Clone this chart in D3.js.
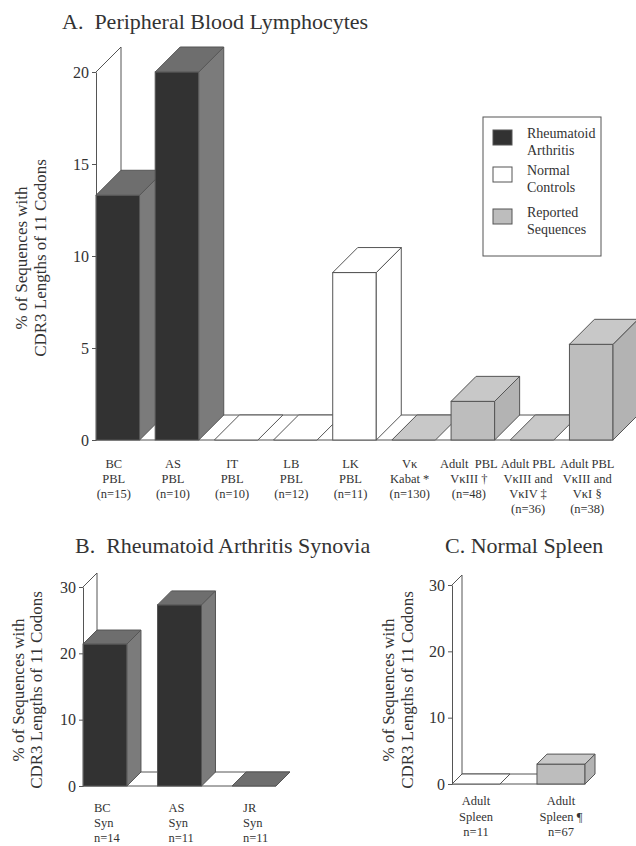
<!DOCTYPE html>
<html><head><meta charset="utf-8">
<script src="https://cdn.jsdelivr.net/npm/d3@7"></script>
<style>
body{margin:0;background:#fff;}
svg text{font-family:"Liberation Serif","Times New Roman",serif;fill:#333;}
</style></head>
<body><svg id="chart" width="636" height="846"></svg>
<script>
// ---------- DATA ----------
const seriesNames = ["Rheumatoid Arthritis", "Normal Controls", "Reported Sequences"];
const seriesKeys = ["RA", "NC", "RS"];
const legendLines = [["Rheumatoid","Arthritis"],["Normal","Controls"],["Reported","Sequences"]];

const catsA = ["BC PBL","AS PBL","IT PBL","LB PBL","LK PBL","Vκ Kabat","Adult PBL VκIII","Adult PBL VκIII and VκIV","Adult PBL VκIII and VκI"];
const labelsA = [["BC","PBL","(n=15)"],["AS","PBL","(n=10)"],["IT","PBL","(n=10)"],["LB","PBL","(n=12)"],["LK","PBL","(n=11)"],["Vκ","Kabat *","(n=130)"],["Adult  PBL","VκIII †","(n=48)"],["Adult PBL","VκIII and","VκIV ‡","(n=36)"],["Adult PBL","VκIII and","VκI §","(n=38)"]];
const valuesA = [13.3, 20.0, 0, 0, 9.1, 0, 2.1, 0, 5.2];
const seriesA = ["RA","RA","NC","NC","NC","RS","RS","RS","RS"];
const ticksA = [0,5,10,15,20];

const catsB = ["BC Syn","AS Syn","JR Syn"];
const labelsB = [["BC","Syn","n=14"],["AS","Syn","n=11"],["JR","Syn","n=11"]];
const valuesB = [21.4, 27.3, 0];
const seriesB = ["RA","RA","RA"];
const ticksB = [0,10,20,30];

const catsC = ["Adult Spleen","Adult Spleen ¶"];
const labelsC = [["Adult","Spleen","n=11"],["Adult","Spleen ¶","n=67"]];
const valuesC = [0, 3.0];
const seriesC = ["NC","RS"];
const ticksC = [0,10,20,30];

const titles = ["A.  Peripheral Blood Lymphocytes","B.  Rheumatoid Arthritis Synovia","C. Normal Spleen"];
const yLabel = ["% of Sequences with","CDR3 Lengths of 11 Codons"];

// ---------- STYLE ----------
const colors = {
  RA:{front:"#323232", top:"#6e6e6e", side:"#7b7b7b"},
  NC:{front:"#ffffff", top:"#ffffff", side:"#ffffff"},
  RS:{front:"#bdbdbd", top:"#c8c8c8", side:"#b3b3b3"}
};
const stroke = "#555";
const svg = d3.select("#chart");

function panel(cfg){
  const g = svg.append("g");
  const y = d3.scaleLinear().domain([0, d3.max(cfg.ticks)]).range(cfg.yRange);
  const x = d3.scaleBand().domain(cfg.cats).range(cfg.xRange).paddingInner(cfg.pad).paddingOuter(0).align(0);
  const d = cfg.depth, ax = cfg.xRange[0], y0 = y(0), yT = y(d3.max(cfg.ticks));
  const xEnd = cfg.xRange[1];
  // back wall
  g.append("path").attr("d", `M${ax},${yT}L${ax+d},${yT-d}L${ax+d},${y0-d}`)
    .attr("fill","none").attr("stroke",stroke);
  // floor
  g.append("path").attr("d", `M${ax},${y0}L${xEnd},${y0}L${xEnd+d},${y0-d}L${ax+d},${y0-d}Z`)
    .attr("fill","#fff").attr("stroke",stroke);
  // bars
  cfg.cats.forEach((c,i)=>{
    const v = cfg.values[i], col = colors[cfg.series[i]];
    const bx = x(c), w = x.bandwidth(), yt = y(v);
    if (v > 0){
      g.append("rect").attr("x",bx).attr("y",yt).attr("width",w).attr("height",y0-yt)
        .attr("fill",col.front).attr("stroke",stroke);
      g.append("path").attr("d",`M${bx+w},${yt}L${bx+w+d},${yt-d}L${bx+w+d},${y0-d}L${bx+w},${y0}Z`)
        .attr("fill",col.side).attr("stroke",stroke).attr("stroke-linejoin","round");
    }
    g.append("path").attr("d",`M${bx},${yt}L${bx+w},${yt}L${bx+w+d},${yt-d}L${bx+d},${yt-d}Z`)
      .attr("fill",col.top).attr("stroke",stroke).attr("stroke-linejoin","round");
    // labels
    const lt = g.append("text").attr("font-size",cfg.labelSize)
      .attr("text-anchor",cfg.labelAnchor).style("white-space","pre");
    cfg.labels[i].forEach((line,j)=>{
      lt.append("tspan").attr("x", bx + w/2 + cfg.labelDx).attr("y", cfg.labelY + j*cfg.labelLH).text(line);
    });
  });
  // axis
  const axis = g.append("g").attr("transform",`translate(${ax},0)`)
    .call(d3.axisLeft(y).tickValues(cfg.ticks).tickSize(4).tickSizeOuter(0).tickPadding(3));
  axis.select(".domain").attr("stroke",stroke);
  axis.selectAll(".tick line").attr("stroke",stroke);
  axis.selectAll(".tick text").attr("font-size",16).attr("fill","#333")
    .attr("font-family","Liberation Serif, serif");
  // y label
  const yl = g.append("text").attr("text-anchor","middle").attr("font-size",17)
    .attr("transform",`translate(0,${cfg.yLabelCy}) rotate(-90)`);
  yLabel.forEach((t,j)=>yl.append("tspan").attr("x",0).attr("y",cfg.yLabelX[j]).text(t));
  // title
  g.append("text").attr("x",cfg.titleX).attr("y",cfg.titleY).attr("font-size",22)
    .style("white-space","pre").text(cfg.title);
}

panel({cats:catsA, values:valuesA, series:seriesA, labels:labelsA, ticks:ticksA,
  yRange:[440,72], xRange:[96,613], pad:0.264, depth:25,
  labelSize:12.5, labelAnchor:"middle", labelDx:-4, labelY:468, labelLH:15,
  yLabelCy:258, yLabelX:[27,46], title:titles[0], titleX:62, titleY:29});

panel({cats:catsB, values:valuesB, series:seriesB, labels:labelsB, ticks:ticksB,
  yRange:[786,587], xRange:[83,276], pad:0.41, depth:14,
  labelSize:12.5, labelAnchor:"start", labelDx:-11, labelY:812, labelLH:15,
  yLabelCy:690, yLabelX:[24,42], title:titles[1], titleX:75, titleY:553});

panel({cats:catsC, values:valuesC, series:seriesC, labels:labelsC, ticks:ticksC,
  yRange:[784,585], xRange:[452,585], pad:0.435, depth:10,
  labelSize:12.5, labelAnchor:"middle", labelDx:0, labelY:805, labelLH:15.5,
  yLabelCy:690, yLabelX:[394,413], title:titles[2], titleX:445, titleY:553});

// legend
const lg = svg.append("g");
lg.append("rect").attr("x",483).attr("y",117).attr("width",118).attr("height",139)
  .attr("fill","#fff").attr("stroke",stroke);
const legY = [130,167,209];
seriesKeys.forEach((k,i)=>{
  lg.append("rect").attr("x",493).attr("y",legY[i]).attr("width",19).attr("height",15)
    .attr("fill",k==="RA"?colors.RA.front:colors[k].front).attr("stroke",stroke);
  const t = lg.append("text").attr("font-size",14);
  legendLines[i].forEach((line,j)=>t.append("tspan").attr("x",527).attr("y",legY[i]+8+j*17).text(line));
});
</script></body></html>
